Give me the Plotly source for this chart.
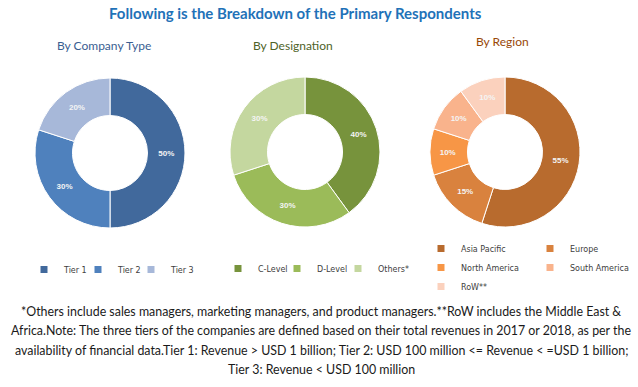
import plotly.graph_objects as go

# ---------------- data ----------------
company_labels = ["Tier 1", "Tier 2", "Tier 3"]
company_values = [50, 30, 20]

designation_labels = ["C-Level", "D-Level", "Others*"]
designation_values = [40, 30, 30]

region_labels = ["Asia Pacific", "Europe", "North America", "South America", "RoW**"]
region_values = [55, 15, 10, 10, 10]

main_title = "Following is the Breakdown of the Primary Respondents"
subtitles = ["By Company Type", "By Designation", "By Region"]
footnote_lines = [
    "*Others include sales managers, marketing managers, and product managers.**RoW includes the Middle East &",
    "Africa.Note: The three tiers of the companies are defined based on their total revenues in 2017 or 2018, as per the",
    "availability of financial data.Tier 1: Revenue > USD 1 billion; Tier 2: USD 100 million <= Revenue < =USD 1 billion;",
    "Tier 3: Revenue < USD 100 million",
]

# ---------------- style ----------------
company_colors = ["#41699C", "#4F81BD", "#A7B8D9"]
designation_colors = ["#77933C", "#9BBB59", "#C4D79F"]
region_colors = ["#B86B2E", "#D9823E", "#F79646", "#F9B38C", "#FBD1BD"]

W, H = 638, 387


def fx(px):
    return px / W


def fy(py):
    return 1 - py / H


def pie(labels, values, colors, cx, cy, r):
    return go.Pie(
        labels=labels,
        values=values,
        hole=0.5,
        sort=False,
        direction="clockwise",
        rotation=0,
        marker=dict(colors=colors, line=dict(color="white", width=1)),
        texttemplate="%{value}%",
        textposition="inside",
        insidetextorientation="horizontal",
        textfont=dict(family="Liberation Sans", size=8, color="#F4F4F4", weight="bold"),
        showlegend=False,
        hoverinfo="label+percent",
        domain=dict(x=[fx(cx - r), fx(cx + r)], y=[fy(cy + r), fy(cy - r)]),
    )


fig = go.Figure()
fig.add_trace(pie(company_labels, company_values, company_colors, 110, 153, 75))
fig.add_trace(pie(designation_labels, designation_values, designation_colors, 305, 152, 75))
fig.add_trace(pie(region_labels, region_values, region_colors, 505, 152, 75))

# legend entries (one small legend box per column so they can be laid out like the reference)
legend_font = dict(family="DejaVu Sans", size=8, color="#404040")
common_leg = dict(orientation="v", xanchor="left", yanchor="top", font=legend_font,
                  bgcolor="rgba(0,0,0,0)", borderwidth=0, itemclick=False,
                  itemdoubleclick=False)

legend_specs = {}
company_legend_x = [24, 78, 131]
designation_legend_x = [218, 277, 338]
region_legend_x = [421, 530]


def add_entry(label, color, legend_id, x_px, top_px):
    fig.add_trace(go.Scatter(
        x=[None], y=[None], mode="markers",
        marker=dict(symbol="square", size=7, color=color),
        name=label, legend=legend_id, hoverinfo="skip", showlegend=True,
    ))
    if legend_id not in legend_specs:
        legend_specs[legend_id] = dict(x=fx(x_px), y=fy(top_px), **common_leg)


n = 1
for lab, col, lx in zip(company_labels, company_colors, company_legend_x):
    add_entry(lab, col, "legend" if n == 1 else "legend%d" % n, lx, 255)
    n += 1
for lab, col, lx in zip(designation_labels, designation_colors, designation_legend_x):
    add_entry(lab, col, "legend%d" % n, lx, 254)
    n += 1
region_ids = ["legend%d" % n, "legend%d" % (n + 1)]
for i, (lab, col) in enumerate(zip(region_labels, region_colors)):
    add_entry(lab, col, region_ids[i % 2], region_legend_x[i % 2], 234)

annotations = [
    dict(text="<b>%s</b>" % main_title, x=fx(295), y=fy(13), xref="paper", yref="paper",
         xanchor="center", yanchor="middle", showarrow=False,
         font=dict(family="Lato", size=15, color="#1F72B8")),
    dict(text=subtitles[0], x=fx(104), y=fy(46), xref="paper", yref="paper",
         xanchor="center", yanchor="middle", showarrow=False,
         font=dict(family="Lato", size=12, color="#3A5E91")),
    dict(text=subtitles[1], x=fx(293), y=fy(46), xref="paper", yref="paper",
         xanchor="center", yanchor="middle", showarrow=False,
         font=dict(family="Lato", size=12, color="#4F6228")),
    dict(text=subtitles[2], x=fx(502), y=fy(41), xref="paper", yref="paper",
         xanchor="center", yanchor="middle", showarrow=False,
         font=dict(family="Lato", size=12, color="#984807")),
]
for i, line in enumerate(footnote_lines):
    annotations.append(dict(
        text=line, x=fx(321), y=fy(311 + i * 19.5), xref="paper", yref="paper",
        xanchor="center", yanchor="middle", showarrow=False,
        font=dict(family="Lato", size=12.4, color="#1A1A1A")))

fig.update_layout(
    width=W, height=H,
    margin=dict(l=0, r=0, t=0, b=0),
    paper_bgcolor="white", plot_bgcolor="white",
    xaxis=dict(visible=False), yaxis=dict(visible=False),
    annotations=annotations,
    hovermode=False,
    **legend_specs,
)

# remove the page's default body margin so the figure fills the window exactly
fig.write_html(
    "out.html",
    config={"displayModeBar": False, "staticPlot": True},
    post_script="document.body.style.margin='0';",
)
